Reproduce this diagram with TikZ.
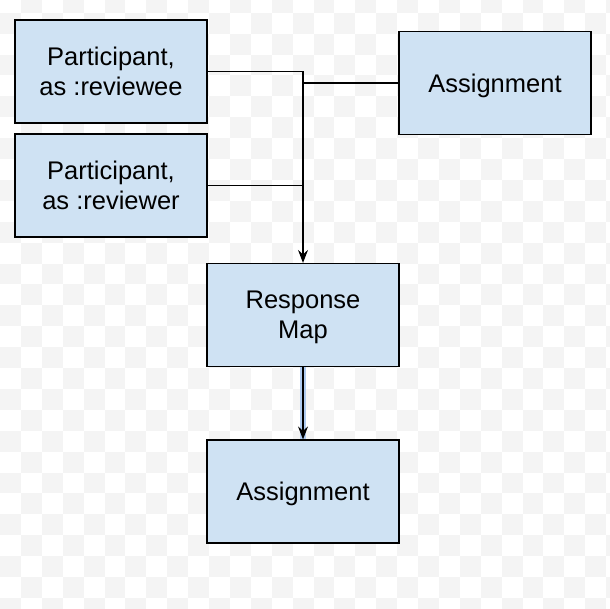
\documentclass[tikz,border=0pt]{standalone}
\usepackage{fontspec}
\setmainfont{Liberation Sans}
\usetikzlibrary{arrows.meta}
\definecolor{boxfill}{HTML}{CFE2F3}
\definecolor{checkgrey}{HTML}{F4F4F4}
\definecolor{selblue}{HTML}{AFCBF0}
\tikzset{
  entity/.style={draw, fill=boxfill, line width=1.2pt, minimum width=192pt,
    minimum height=103pt, inner sep=0pt, align=center, text depth=-4pt,
    font=\fontsize{25.5}{30}\selectfont},
  link/.style={line width=1.1pt},
  tip/.style={-{Stealth[length=13pt,width=10pt,inset=4.5pt]}}
}
\begin{document}
\begin{tikzpicture}[x=1pt,y=-1pt]
\useasboundingbox (0,0) rectangle (610,608);

% Background checkerboard
\begin{scope}
\clip (0,0) rectangle (610,608);
\foreach \i in {0,...,29} \foreach \j in {0,...,29} {
  \pgfmathtruncatemacro\cellodd{mod(\i+\j,2)}
  \ifnum\cellodd=1 \fill[checkgrey] (\i*20.9,\j*20.9-8.2) rectangle ++(20.9,20.9); \fi
}
\end{scope}

% Boxes
\node (reviewee) at (111,71.5) [entity] {Participant,\\as :reviewee};
\node (reviewer) at (111,185.5) [entity] {Participant,\\as :reviewer};
\node (assigntop) at (495,83) [entity] {Assignment};
\node (respmap) at (303,315) [entity] {Response\\Map};
\node (assignbot) at (303,491.5) [entity] {Assignment};

% Lines into Response Map
\draw [link, tip] (reviewee.east) -| (respmap.north);
\draw [link] (reviewer.east) -- (reviewer.east -| respmap.north);
\draw [link] (assigntop.west) -- (assigntop.west -| respmap.north);

% Response Map to Assignment (selected)
\draw [selblue, line width=6pt] (respmap.south) -- (assignbot.north);
\draw [link, tip] (respmap.south) -- (assignbot.north);
\end{tikzpicture}
\end{document}
